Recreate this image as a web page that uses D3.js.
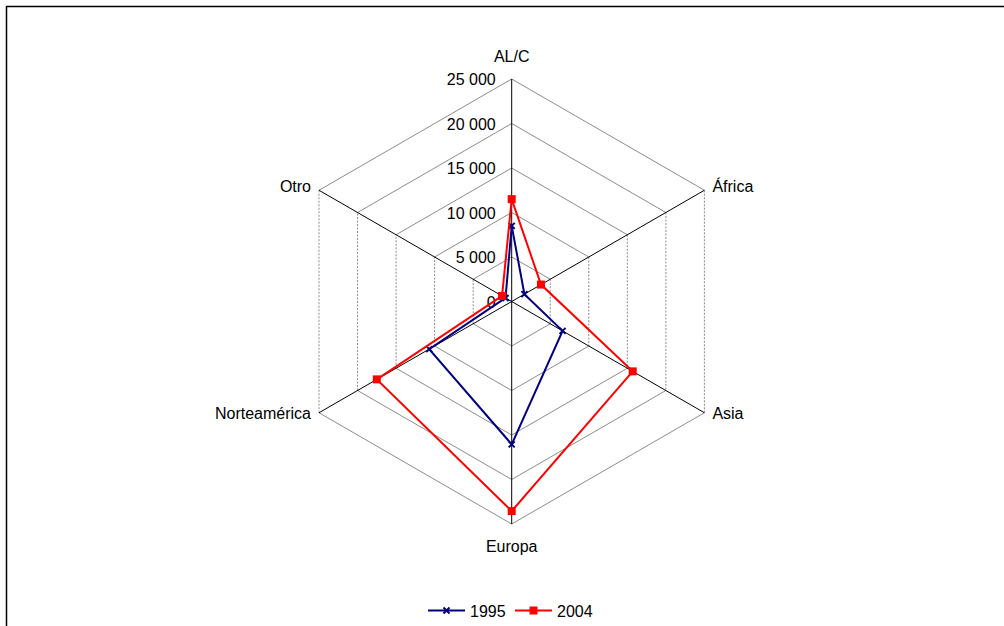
<!DOCTYPE html>
<html><head><meta charset="utf-8">
<script src="https://cdn.jsdelivr.net/npm/d3@7"></script>
<style>body{margin:0;background:#fff}svg{display:block}text{font-family:"Liberation Sans",Arial,sans-serif;fill:#000}</style>
</head><body>
<svg id="c" width="1004" height="626"></svg>
<script>
const categories = ["AL/C","África","Asia","Europa","Norteamérica","Otro"];
const values1995 = [8500,1650,6600,16050,10700,800];
const values2004 = [11500,3800,15700,23550,17500,1250];
const tickValues = [0,5000,10000,15000,20000,25000];
const tickLabels = ["0","5 000","10 000","15 000","20 000","25 000"];
const seriesNames = ["1995","2004"];

const FS = 16;
const svg = d3.select("#c");
svg.append("rect").attr("x",6.5).attr("y",6.5).attr("width",1010).attr("height",640)
  .attr("fill","none").attr("stroke","#000").attr("stroke-width",1.5);

const cx = 511.7, cy = 301.5;
const r = d3.scaleLinear().domain([0,25000]).range([0,222.5]);
const ang = d3.scaleLinear().domain([0,categories.length]).range([0,2*Math.PI]);
const pt = (i,v)=>[cx + r(v)*Math.sin(ang(i)), cy - r(v)*Math.cos(ang(i))];

const g = svg.append("g");
tickValues.slice(1).forEach(tv=>{
  for(let i=0;i<categories.length;i++){
    const a = pt(i,tv), b = pt((i+1)%categories.length,tv);
    const vertical = (i===1 || i===4);
    g.append("line").attr("x1",a[0]).attr("y1",a[1]).attr("x2",b[0]).attr("y2",b[1])
      .attr("stroke","#8c8c8c").attr("stroke-width",1)
      .attr("stroke-dasharray", vertical ? "2,1.5" : null);
  }
});
categories.forEach((c,i)=>{
  const p = pt(i,25000);
  g.append("line").attr("x1",cx).attr("y1",cy).attr("x2",p[0]).attr("y2",p[1])
    .attr("stroke","#000").attr("stroke-width",1);
});
tickValues.forEach((tv,k)=>{
  const p = pt(0,tv);
  g.append("text").attr("x",p[0]-16).attr("y",p[1]+6).attr("text-anchor","end")
    .attr("font-size",FS).text(tickLabels[k]);
});
const labelPos = [
  {anchor:"middle", dx:0, dy:-17},
  {anchor:"start", dx:8, dy:2},
  {anchor:"start", dx:8, dy:6},
  {anchor:"middle", dx:0, dy:28},
  {anchor:"end", dx:-8, dy:6},
  {anchor:"end", dx:-8, dy:2}
];
categories.forEach((c,i)=>{
  const p = pt(i,25000);
  g.append("text").attr("x",p[0]+labelPos[i].dx).attr("y",p[1]+labelPos[i].dy)
    .attr("text-anchor",labelPos[i].anchor).attr("font-size",FS).text(c);
});

const line = d3.line().curve(d3.curveLinearClosed);
const colors = ["#000080","#ff0000"];
const data = [values1995, values2004];
data.forEach((vals,s)=>{
  const pts = vals.map((v,i)=>pt(i,v));
  g.append("path").attr("d",line(pts)).attr("fill","none")
    .attr("stroke",colors[s]).attr("stroke-width",2);
  pts.forEach(p=>{
    if(s===0){
      g.append("path").attr("d",`M${p[0]-3},${p[1]-3}L${p[0]+3},${p[1]+3}M${p[0]-3},${p[1]+3}L${p[0]+3},${p[1]-3}`)
        .attr("stroke",colors[0]).attr("stroke-width",2);
    } else {
      g.append("rect").attr("x",p[0]-4).attr("y",p[1]-4).attr("width",8).attr("height",8)
        .attr("fill",colors[1]);
    }
  });
});

const lg = svg.append("g");
const legendX = [428, 515];
seriesNames.forEach((n,s)=>{
  const x0 = legendX[s], y0 = 610.5;
  lg.append("line").attr("x1",x0).attr("y1",y0).attr("x2",x0+37).attr("y2",y0)
    .attr("stroke",colors[s]).attr("stroke-width",2);
  const mx = x0+18.5;
  if(s===0){
    lg.append("path").attr("d",`M${mx-3},${y0-3}L${mx+3},${y0+3}M${mx-3},${y0+3}L${mx+3},${y0-3}`)
      .attr("stroke",colors[0]).attr("stroke-width",2);
  } else {
    lg.append("rect").attr("x",mx-4).attr("y",y0-4).attr("width",8).attr("height",8).attr("fill",colors[1]);
  }
  lg.append("text").attr("x",x0+42).attr("y",y0+6).attr("font-size",FS).text(n);
});
</script>
</body></html>
